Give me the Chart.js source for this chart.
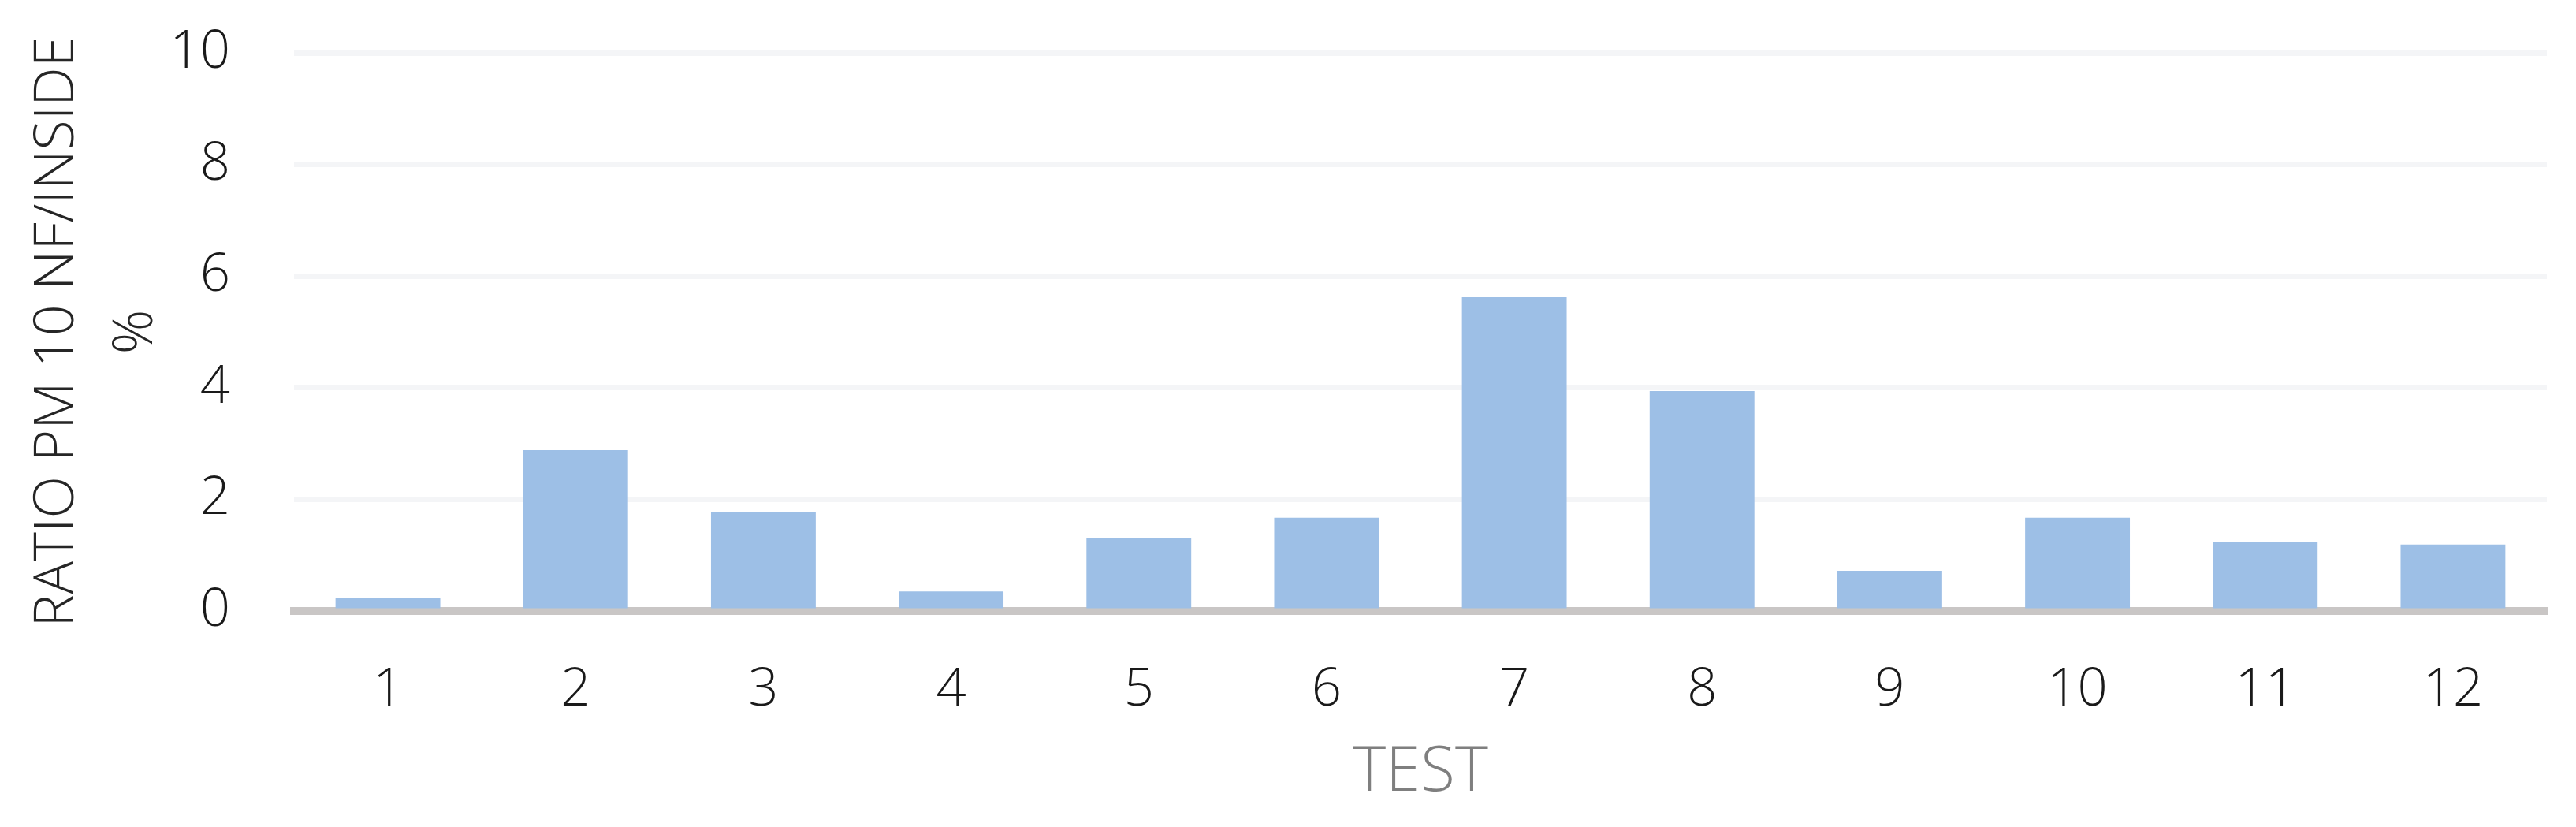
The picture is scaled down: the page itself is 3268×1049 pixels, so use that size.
<!DOCTYPE html>
<html>
<head>
<meta charset="utf-8">
<script src="https://cdn.jsdelivr.net/npm/chart.js@4"></script>
<style>
  html, body { margin: 0; padding: 0; background: #ffffff; }
  #wrap { width: 3268px; height: 1049px; }
</style>
</head>
<body>
<div id="wrap"><canvas id="c" width="3268" height="1049"></canvas></div>
<script>
const categories = ['1', '2', '3', '4', '5', '6', '7', '8', '9', '10', '11', '12'];
const ratioValues = [0.24, 2.88, 1.78, 0.35, 1.30, 1.67, 5.62, 3.94, 0.72, 1.67, 1.24, 1.19];
const yTitleLines = ['RATIO PM 10 NF/INSIDE', '%'];
const xTitle = 'TEST';
const yMin = 0, yMax = 10, yStep = 2;

new Chart(document.getElementById('c'), {
  type: 'bar',
  data: {
    labels: categories,
    datasets: [{
      data: ratioValues,
      backgroundColor: 'rgb(157,191,230)',
      borderWidth: 0,
      barPercentage: 0.558,
      categoryPercentage: 1.0
    }]
  },
  options: {
    responsive: false,
    animation: false,
    devicePixelRatio: 1,
    layout: { padding: { top: 67, right: 37, left: 0, bottom: 0 } },
    plugins: { legend: { display: false }, tooltip: { enabled: false } },
    scales: {
      x: {
        z: 1,
        grid: { display: false, drawTicks: false },
        border: { display: true, color: '#c9c6c5', width: 10 },
        ticks: {
          padding: 61,
          color: '#1a1a1a',
          font: { family: 'Open Sans', size: 67, weight: 300 }
        },
        title: {
          display: true,
          text: xTitle,
          color: '#7f7f7f',
          font: { family: 'Open Sans', size: 80, weight: 300, lineHeight: 1.2 },
          padding: { top: 0, bottom: 21 }
        },
        afterFit: (s) => { s.height = 274; }
      },
      y: {
        min: yMin,
        max: yMax,
        grid: {
          drawTicks: true,
          tickLength: 81,
          tickColor: 'rgba(0,0,0,0)',
          lineWidth: 7,
          color: (ctx) => (ctx.tick && ctx.tick.value === 0) ? 'rgba(0,0,0,0)' : '#f4f5f7'
        },
        border: { display: false },
        ticks: {
          stepSize: yStep,
          padding: 0,
          color: '#1a1a1a',
          font: { family: 'Open Sans', size: 67, weight: 300 }
        },
        title: {
          display: true,
          text: yTitleLines,
          color: '#262626',
          font: { family: 'Open Sans', size: 70, weight: 300, lineHeight: 1.4286 },
          padding: { top: 23, bottom: 0 }
        },
        afterFit: (s) => { s.width = 373; }
      }
    }
  }
});
</script>
</body>
</html>
